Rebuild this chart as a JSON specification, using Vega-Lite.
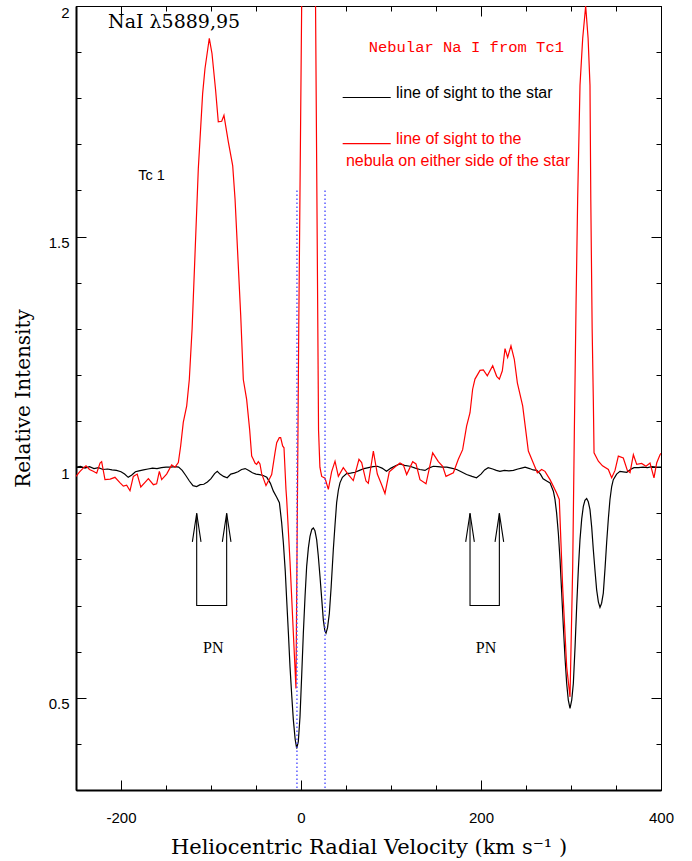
{
  "$schema": "https://vega.github.io/schema/vega-lite/v6.json",
  "width": 585,
  "height": 784,
  "autosize": {"type": "none"},
  "padding": {"left": 76, "top": 6, "right": 31, "bottom": 71},
  "background": "white",
  "config": {
    "view": {"stroke": "black", "strokeWidth": 1},
    "axis": {
      "grid": false,
      "tickColor": "black",
      "tickWidth": 1,
      "domainColor": "black",
      "labelFont": "Liberation Sans",
      "labelFontSize": 15,
      "labelColor": "black",
      "labelFlush": false,
      "labelOverlap": false,
      "titleFont": "DejaVu Serif",
      "titleFontSize": 20,
      "titleFontWeight": "normal",
      "titleColor": "black"
    }
  },
  "datasets": {
    "star": [
      {"v": -250, "i": 1.000}, {"v": -245, "i": 1.002}, {"v": -240, "i": 0.998}, {"v": -235, "i": 1.001},
      {"v": -230, "i": 0.997}, {"v": -225, "i": 0.999}, {"v": -220, "i": 0.995}, {"v": -215, "i": 0.996},
      {"v": -210, "i": 0.994}, {"v": -205, "i": 0.993}, {"v": -200, "i": 0.990}, {"v": -196, "i": 0.985},
      {"v": -192, "i": 0.978}, {"v": -188, "i": 0.983}, {"v": -184, "i": 0.990}, {"v": -180, "i": 0.992},
      {"v": -175, "i": 0.994}, {"v": -170, "i": 0.996}, {"v": -165, "i": 0.998}, {"v": -160, "i": 0.997},
      {"v": -155, "i": 0.999}, {"v": -150, "i": 1.000}, {"v": -145, "i": 1.000}, {"v": -140, "i": 1.001},
      {"v": -136, "i": 1.000}, {"v": -132, "i": 0.993}, {"v": -128, "i": 0.982}, {"v": -124, "i": 0.970},
      {"v": -120, "i": 0.960}, {"v": -116, "i": 0.958}, {"v": -112, "i": 0.962}, {"v": -108, "i": 0.963},
      {"v": -104, "i": 0.968}, {"v": -100, "i": 0.975}, {"v": -96, "i": 0.986}, {"v": -93, "i": 0.991},
      {"v": -90, "i": 0.985}, {"v": -86, "i": 0.980}, {"v": -82, "i": 0.977}, {"v": -78, "i": 0.985},
      {"v": -74, "i": 0.987}, {"v": -70, "i": 0.990}, {"v": -66, "i": 0.995}, {"v": -62, "i": 0.997},
      {"v": -58, "i": 0.993}, {"v": -54, "i": 0.988}, {"v": -50, "i": 0.985}, {"v": -46, "i": 0.984},
      {"v": -42, "i": 0.982}, {"v": -38, "i": 0.978}, {"v": -34, "i": 0.965}, {"v": -30.7, "i": 0.948},
      {"v": -27, "i": 0.935}, {"v": -24, "i": 0.923}, {"v": -21.5, "i": 0.880}, {"v": -19.6, "i": 0.836},
      {"v": -17.5, "i": 0.775}, {"v": -15.9, "i": 0.712}, {"v": -14, "i": 0.640}, {"v": -12.2, "i": 0.567},
      {"v": -10.3, "i": 0.505}, {"v": -8.5, "i": 0.452}, {"v": -6.5, "i": 0.410}, {"v": -4.8, "i": 0.390},
      {"v": -3, "i": 0.405}, {"v": -1.1, "i": 0.459}, {"v": 0.8, "i": 0.550}, {"v": 2.6, "i": 0.640},
      {"v": 4.5, "i": 0.720}, {"v": 6.3, "i": 0.785}, {"v": 8.2, "i": 0.825}, {"v": 10, "i": 0.850},
      {"v": 12, "i": 0.865}, {"v": 13.7, "i": 0.868}, {"v": 15.5, "i": 0.862}, {"v": 17.4, "i": 0.843},
      {"v": 19.2, "i": 0.808}, {"v": 21.1, "i": 0.763}, {"v": 23, "i": 0.715}, {"v": 24.8, "i": 0.669},
      {"v": 26.5, "i": 0.645}, {"v": 27.8, "i": 0.640}, {"v": 29.5, "i": 0.652}, {"v": 31.5, "i": 0.683},
      {"v": 33.5, "i": 0.740}, {"v": 35.9, "i": 0.821}, {"v": 37.8, "i": 0.875}, {"v": 39.6, "i": 0.923},
      {"v": 41.5, "i": 0.950}, {"v": 43.3, "i": 0.966}, {"v": 46, "i": 0.978}, {"v": 50.7, "i": 0.986},
      {"v": 55, "i": 0.987}, {"v": 60, "i": 0.989}, {"v": 65, "i": 0.993}, {"v": 70, "i": 0.997},
      {"v": 75, "i": 0.999}, {"v": 80, "i": 1.001}, {"v": 85, "i": 1.002}, {"v": 90, "i": 0.998},
      {"v": 95, "i": 0.991}, {"v": 100, "i": 0.998}, {"v": 105, "i": 1.003}, {"v": 110, "i": 1.007},
      {"v": 115, "i": 1.004}, {"v": 121, "i": 1.002}, {"v": 127, "i": 0.998}, {"v": 132, "i": 0.995},
      {"v": 137.8, "i": 0.993}, {"v": 142, "i": 0.998}, {"v": 147, "i": 1.002}, {"v": 152, "i": 1.001},
      {"v": 157, "i": 1.000}, {"v": 162, "i": 1.000}, {"v": 167, "i": 0.998}, {"v": 173, "i": 0.995},
      {"v": 178, "i": 0.990}, {"v": 184, "i": 0.984}, {"v": 190, "i": 0.980}, {"v": 195, "i": 0.977},
      {"v": 200, "i": 0.985}, {"v": 204, "i": 0.994}, {"v": 208, "i": 0.999}, {"v": 213, "i": 0.996},
      {"v": 217, "i": 0.993}, {"v": 221, "i": 0.991}, {"v": 226, "i": 0.993}, {"v": 231, "i": 0.992},
      {"v": 236, "i": 0.993}, {"v": 241, "i": 0.996}, {"v": 245, "i": 0.998}, {"v": 249, "i": 1.000},
      {"v": 254, "i": 0.997}, {"v": 258, "i": 0.994}, {"v": 262, "i": 0.993}, {"v": 266, "i": 0.985},
      {"v": 269, "i": 0.975}, {"v": 273, "i": 0.970}, {"v": 276.7, "i": 0.966}, {"v": 280.4, "i": 0.948},
      {"v": 282.2, "i": 0.930}, {"v": 284, "i": 0.901}, {"v": 286, "i": 0.855}, {"v": 287.8, "i": 0.800},
      {"v": 289.6, "i": 0.730}, {"v": 291.5, "i": 0.654}, {"v": 293.4, "i": 0.585}, {"v": 295.2, "i": 0.531},
      {"v": 297, "i": 0.495}, {"v": 298.9, "i": 0.477}, {"v": 300.8, "i": 0.495}, {"v": 302.6, "i": 0.531},
      {"v": 304.5, "i": 0.610}, {"v": 306.3, "i": 0.698}, {"v": 308.2, "i": 0.780}, {"v": 310, "i": 0.843},
      {"v": 311.9, "i": 0.888}, {"v": 313.7, "i": 0.915}, {"v": 315.5, "i": 0.928}, {"v": 317.4, "i": 0.932},
      {"v": 319.2, "i": 0.925}, {"v": 321.1, "i": 0.908}, {"v": 323, "i": 0.870}, {"v": 324.8, "i": 0.821},
      {"v": 326.7, "i": 0.775}, {"v": 328.5, "i": 0.734}, {"v": 330.4, "i": 0.708}, {"v": 332.2, "i": 0.696},
      {"v": 334, "i": 0.705}, {"v": 335.9, "i": 0.727}, {"v": 337.8, "i": 0.780}, {"v": 339.6, "i": 0.836},
      {"v": 341.5, "i": 0.888}, {"v": 343.3, "i": 0.930}, {"v": 345.2, "i": 0.958}, {"v": 347, "i": 0.973},
      {"v": 350.7, "i": 0.985}, {"v": 354.4, "i": 0.991}, {"v": 358, "i": 0.990}, {"v": 362, "i": 0.989},
      {"v": 366, "i": 0.995}, {"v": 370, "i": 0.999}, {"v": 375, "i": 0.999}, {"v": 380, "i": 1.000},
      {"v": 385, "i": 0.999}, {"v": 390, "i": 1.001}, {"v": 395, "i": 1.000}, {"v": 400, "i": 1.000}
    ],
    "nebula": [
      {"v": -250, "i": 0.980}, {"v": -246, "i": 0.990}, {"v": -242, "i": 0.998}, {"v": -238.9, "i": 1.003},
      {"v": -235, "i": 0.995}, {"v": -230.8, "i": 0.991}, {"v": -227, "i": 0.987}, {"v": -223.3, "i": 1.009},
      {"v": -221.5, "i": 1.012}, {"v": -217.8, "i": 0.973}, {"v": -212, "i": 0.974}, {"v": -206.7, "i": 0.978},
      {"v": -201, "i": 0.966}, {"v": -197.4, "i": 0.959}, {"v": -193.7, "i": 0.961}, {"v": -190, "i": 0.949},
      {"v": -186.3, "i": 0.980}, {"v": -182, "i": 0.985}, {"v": -178, "i": 0.957}, {"v": -173.3, "i": 0.967},
      {"v": -169.6, "i": 0.975}, {"v": -164, "i": 0.962}, {"v": -160.4, "i": 0.964}, {"v": -157.4, "i": 0.991},
      {"v": -154.8, "i": 0.973}, {"v": -149.3, "i": 0.985}, {"v": -143.7, "i": 1.005}, {"v": -140, "i": 1.000},
      {"v": -136.3, "i": 1.010}, {"v": -133.7, "i": 1.046}, {"v": -130.8, "i": 1.097}, {"v": -127, "i": 1.133},
      {"v": -124.1, "i": 1.190}, {"v": -121, "i": 1.300}, {"v": -118, "i": 1.450}, {"v": -114.1, "i": 1.647},
      {"v": -109.3, "i": 1.810}, {"v": -106.7, "i": 1.864}, {"v": -101.9, "i": 1.930}, {"v": -98.9, "i": 1.897},
      {"v": -95, "i": 1.820}, {"v": -91.9, "i": 1.749}, {"v": -88.1, "i": 1.750}, {"v": -85.6, "i": 1.763},
      {"v": -80.7, "i": 1.705}, {"v": -75.9, "i": 1.654}, {"v": -73.3, "i": 1.582}, {"v": -70, "i": 1.450},
      {"v": -67, "i": 1.330}, {"v": -64.1, "i": 1.190}, {"v": -60.4, "i": 1.147}, {"v": -57, "i": 1.080},
      {"v": -54.8, "i": 1.024}, {"v": -53, "i": 1.017}, {"v": -51.1, "i": 1.009}, {"v": -49.3, "i": 1.006},
      {"v": -47.4, "i": 1.012}, {"v": -45.6, "i": 1.007}, {"v": -43.7, "i": 0.986}, {"v": -38.9, "i": 0.960},
      {"v": -34.4, "i": 0.977}, {"v": -32.6, "i": 0.984}, {"v": -28.9, "i": 1.031}, {"v": -27, "i": 1.053},
      {"v": -24.1, "i": 1.064}, {"v": -22.6, "i": 1.064}, {"v": -20.4, "i": 1.046}, {"v": -18.9, "i": 1.042},
      {"v": -16.7, "i": 0.952}, {"v": -15.9, "i": 0.930}, {"v": -12.2, "i": 0.795}, {"v": -8.5, "i": 0.640},
      {"v": -5.6, "i": 0.520}, {"v": -2.5, "i": 1.300}, {"v": 3.5, "i": 2.600}, {"v": 9, "i": 2.900},
      {"v": 14, "i": 2.600}, {"v": 19.5, "i": 1.080}, {"v": 21, "i": 1.000}, {"v": 23, "i": 0.980},
      {"v": 26.7, "i": 0.976}, {"v": 30.4, "i": 0.952}, {"v": 34, "i": 0.990}, {"v": 37.8, "i": 1.013},
      {"v": 41.5, "i": 0.980}, {"v": 47, "i": 0.999}, {"v": 52.6, "i": 0.984}, {"v": 58.1, "i": 0.971},
      {"v": 64.4, "i": 1.017}, {"v": 67.4, "i": 1.010}, {"v": 72.2, "i": 0.970}, {"v": 74.8, "i": 0.965},
      {"v": 80.4, "i": 1.035}, {"v": 84.8, "i": 0.985}, {"v": 89.6, "i": 0.962}, {"v": 93.3, "i": 0.943},
      {"v": 98.1, "i": 0.990}, {"v": 104, "i": 1.000}, {"v": 110, "i": 1.009}, {"v": 113.7, "i": 1.005},
      {"v": 117.4, "i": 0.984}, {"v": 124.1, "i": 1.012}, {"v": 127.8, "i": 1.007}, {"v": 132.2, "i": 0.973},
      {"v": 138.9, "i": 0.964}, {"v": 146.3, "i": 1.031}, {"v": 152.6, "i": 1.012}, {"v": 157.4, "i": 1.002},
      {"v": 161.1, "i": 0.980}, {"v": 169.3, "i": 0.988}, {"v": 174.8, "i": 1.017}, {"v": 179.6, "i": 1.038},
      {"v": 184, "i": 1.089}, {"v": 187.8, "i": 1.118}, {"v": 190.7, "i": 1.169}, {"v": 193.3, "i": 1.191},
      {"v": 198.9, "i": 1.210}, {"v": 202.6, "i": 1.211}, {"v": 207, "i": 1.198}, {"v": 213, "i": 1.220},
      {"v": 217.4, "i": 1.197}, {"v": 220.4, "i": 1.191}, {"v": 223.7, "i": 1.209}, {"v": 226.7, "i": 1.257},
      {"v": 229.6, "i": 1.238}, {"v": 233.3, "i": 1.263}, {"v": 237, "i": 1.234}, {"v": 240.4, "i": 1.183},
      {"v": 246.3, "i": 1.133}, {"v": 252.6, "i": 1.035}, {"v": 258.1, "i": 1.009}, {"v": 262.6, "i": 0.988},
      {"v": 267.4, "i": 0.995}, {"v": 271.1, "i": 0.991}, {"v": 276.7, "i": 0.973}, {"v": 280, "i": 0.960},
      {"v": 284, "i": 0.944}, {"v": 287, "i": 0.930}, {"v": 290.7, "i": 0.741}, {"v": 295.2, "i": 0.567},
      {"v": 298.9, "i": 0.502}, {"v": 301.9, "i": 0.785}, {"v": 303.7, "i": 1.075}, {"v": 305.6, "i": 1.350},
      {"v": 307.4, "i": 1.582}, {"v": 310, "i": 1.828}, {"v": 313, "i": 1.930}, {"v": 316.3, "i": 2.000},
      {"v": 319, "i": 1.930}, {"v": 321.1, "i": 1.828}, {"v": 322, "i": 1.580}, {"v": 323.5, "i": 1.300},
      {"v": 324.8, "i": 1.147}, {"v": 325.6, "i": 1.031}, {"v": 330.4, "i": 1.013}, {"v": 335, "i": 1.003},
      {"v": 341.5, "i": 0.995}, {"v": 345.2, "i": 0.977}, {"v": 348.9, "i": 0.993}, {"v": 352.6, "i": 1.024},
      {"v": 358.1, "i": 1.020}, {"v": 362.6, "i": 0.993}, {"v": 365.6, "i": 0.988}, {"v": 369.3, "i": 1.027},
      {"v": 373, "i": 1.006}, {"v": 378.5, "i": 1.008}, {"v": 383.3, "i": 1.002}, {"v": 387.8, "i": 1.009},
      {"v": 392.2, "i": 0.977}, {"v": 395.2, "i": 1.009}, {"v": 398.9, "i": 1.027}, {"v": 400, "i": 1.030}
    ],
    "markers": [
      {"v": -4.5, "top": 1.6, "bottom": 0.3},
      {"v": 26.7, "top": 1.6, "bottom": 0.3}
    ],
    "brackets": [
      {"g": "L", "k": 1, "v": -115.9, "i": 0.9}, {"g": "L", "k": 2, "v": -115.9, "i": 0.7},
      {"g": "L", "k": 3, "v": -82.6, "i": 0.7}, {"g": "L", "k": 4, "v": -82.6, "i": 0.9},
      {"g": "R", "k": 1, "v": 187.8, "i": 0.9}, {"g": "R", "k": 2, "v": 187.8, "i": 0.7},
      {"g": "R", "k": 3, "v": 220.4, "i": 0.7}, {"g": "R", "k": 4, "v": 220.4, "i": 0.9}
    ],
    "heads": [
      {"g": "a", "k": 1, "v": -120.7, "i": 0.838}, {"g": "a", "k": 2, "v": -115.9, "i": 0.9}, {"g": "a", "k": 3, "v": -111.1, "i": 0.838},
      {"g": "b", "k": 1, "v": -87.4, "i": 0.838}, {"g": "b", "k": 2, "v": -82.6, "i": 0.9}, {"g": "b", "k": 3, "v": -77.8, "i": 0.838},
      {"g": "c", "k": 1, "v": 183.0, "i": 0.838}, {"g": "c", "k": 2, "v": 187.8, "i": 0.9}, {"g": "c", "k": 3, "v": 192.6, "i": 0.838},
      {"g": "d", "k": 1, "v": 215.6, "i": 0.838}, {"g": "d", "k": 2, "v": 220.4, "i": 0.9}, {"g": "d", "k": 3, "v": 225.2, "i": 0.838}
    ],
    "legendlines": [
      {"s": "star", "v": 46.3, "i": 1.8015}, {"s": "star", "v": 99.7, "i": 1.8015},
      {"s": "neb", "v": 46.3, "i": 1.7015}, {"s": "neb", "v": 99.7, "i": 1.7015}
    ]
  },
  "resolve": {"axis": {"x": "independent", "y": "independent"}},
  "layer": [
    {
      "data": {"name": "star"},
      "mark": {"type": "line", "color": "black", "strokeWidth": 1.2, "clip": true},
      "encoding": {
        "x": {"field": "v", "type": "quantitative",
              "scale": {"domain": [-250, 400], "nice": false, "zero": false},
              "axis": {"orient": "bottom", "values": [-200, 0, 200, 400], "tickSize": -10, "labelPadding": 30,
                       "labelExpr": "'' + datum.value", "domainWidth": 2,
                       "title": "Heliocentric Radial Velocity (km s⁻¹ )", "titleFontSize": 21, "titleY": 63, "titleBaseline": "alphabetic"}},
        "y": {"field": "i", "type": "quantitative",
              "scale": {"domain": [0.3, 2.0], "nice": false, "zero": false},
              "axis": {"orient": "left", "values": [0.5, 1, 1.5, 2], "tickSize": -10, "labelPadding": 17, "labelOffset": 6,
                       "labelExpr": "'' + datum.value", "domainWidth": 2,
                       "title": "Relative Intensity", "titleX": -47, "titleBaseline": "alphabetic"}}
      }
    },
    {
      "data": {"name": "nebula"},
      "mark": {"type": "line", "color": "#ff0000", "strokeWidth": 1.2, "clip": true},
      "encoding": {
        "x": {"field": "v", "type": "quantitative",
              "scale": {"domain": [-250, 400], "nice": false, "zero": false},
              "axis": {"orient": "bottom", "values": [-250, -200, -150, -100, -50, 0, 50, 100, 150, 200, 250, 300, 350, 400],
                       "tickSize": -5, "labels": false, "domain": false, "title": null}},
        "y": {"field": "i", "type": "quantitative",
              "scale": {"domain": [0.3, 2.0], "nice": false, "zero": false},
              "axis": {"orient": "left", "values": [0.3, 0.4, 0.5, 0.6, 0.7, 0.8, 0.9, 1.0, 1.1, 1.2, 1.3, 1.4, 1.5, 1.6, 1.7, 1.8, 1.9, 2.0],
                       "tickSize": -5, "labels": false, "domain": false, "title": null}}
      }
    },
    {
      "data": {"name": "markers"},
      "mark": {"type": "rule", "color": "#4f4fff", "strokeWidth": 1.4, "strokeDash": [1.5, 2.5]},
      "encoding": {
        "x": {"field": "v", "type": "quantitative",
              "scale": {"domain": [-250, 400], "nice": false, "zero": false},
              "axis": {"orient": "top", "values": [-200, 0, 200, 400], "tickSize": -10, "labels": false, "domain": false, "title": null}},
        "y": {"field": "top", "type": "quantitative",
              "scale": {"domain": [0.3, 2.0], "nice": false, "zero": false},
              "axis": {"orient": "right", "values": [0.5, 1, 1.5, 2], "tickSize": -10, "labels": false, "domain": false, "title": null}},
        "y2": {"field": "bottom"}
      }
    },
    {
      "data": {"name": "brackets"},
      "mark": {"type": "line", "color": "black", "strokeWidth": 1.1},
      "encoding": {
        "x": {"field": "v", "type": "quantitative",
              "scale": {"domain": [-250, 400], "nice": false, "zero": false},
              "axis": {"orient": "top", "values": [-250, -200, -150, -100, -50, 0, 50, 100, 150, 200, 250, 300, 350, 400],
                       "tickSize": -5, "labels": false, "domain": false, "title": null}},
        "y": {"field": "i", "type": "quantitative",
              "scale": {"domain": [0.3, 2.0], "nice": false, "zero": false},
              "axis": {"orient": "right", "values": [0.3, 0.4, 0.5, 0.6, 0.7, 0.8, 0.9, 1.0, 1.1, 1.2, 1.3, 1.4, 1.5, 1.6, 1.7, 1.8, 1.9, 2.0],
                       "tickSize": -5, "labels": false, "domain": false, "title": null}},
        "detail": {"field": "g"},
        "order": {"field": "k"}
      }
    },
    {
      "data": {"name": "heads"},
      "mark": {"type": "line", "color": "black", "strokeWidth": 1.1},
      "encoding": {
        "x": {"field": "v", "type": "quantitative", "axis": null},
        "y": {"field": "i", "type": "quantitative", "axis": null},
        "detail": {"field": "g"},
        "order": {"field": "k"}
      }
    },
    {
      "data": {"name": "legendlines"},
      "transform": [{"filter": "datum.s === 'star'"}],
      "mark": {"type": "line", "color": "black", "strokeWidth": 1.1},
      "encoding": {
        "x": {"field": "v", "type": "quantitative", "axis": null},
        "y": {"field": "i", "type": "quantitative", "axis": null}
      }
    },
    {
      "data": {"name": "legendlines"},
      "transform": [{"filter": "datum.s === 'neb'"}],
      "mark": {"type": "line", "color": "#ff0000", "strokeWidth": 1.1},
      "encoding": {
        "x": {"field": "v", "type": "quantitative", "axis": null},
        "y": {"field": "i", "type": "quantitative", "axis": null}
      }
    },
    {
      "data": {"values": [{"t": "NaI  λ5889,95", "v": -214.4, "i": 1.953}]},
      "mark": {"type": "text", "font": "DejaVu Serif", "fontSize": 19, "color": "black", "align": "left", "baseline": "alphabetic"},
      "encoding": {
        "x": {"field": "v", "type": "quantitative", "axis": null},
        "y": {"field": "i", "type": "quantitative", "axis": null},
        "text": {"field": "t"}
      }
    },
    {
      "data": {"values": [{"t": "Tc 1", "v": -180.8, "i": 1.622}]},
      "mark": {"type": "text", "font": "Liberation Sans", "fontSize": 14.5, "color": "black", "align": "left", "baseline": "alphabetic"},
      "encoding": {
        "x": {"field": "v", "type": "quantitative", "axis": null},
        "y": {"field": "i", "type": "quantitative", "axis": null},
        "text": {"field": "t"}
      }
    },
    {
      "data": {"values": [{"t": "Nebular Na I from Tc1", "v": 183.7, "i": 1.901}]},
      "mark": {"type": "text", "font": "Liberation Mono", "fontSize": 15.5, "color": "#ff0000", "align": "center", "baseline": "alphabetic"},
      "encoding": {
        "x": {"field": "v", "type": "quantitative", "axis": null},
        "y": {"field": "i", "type": "quantitative", "axis": null},
        "text": {"field": "t"}
      }
    },
    {
      "data": {"values": [{"t": "line of sight to the star", "v": 105.6, "i": 1.8015}]},
      "mark": {"type": "text", "font": "Liberation Sans", "fontSize": 16, "color": "black", "align": "left", "baseline": "alphabetic"},
      "encoding": {
        "x": {"field": "v", "type": "quantitative", "axis": null},
        "y": {"field": "i", "type": "quantitative", "axis": null},
        "text": {"field": "t"}
      }
    },
    {
      "data": {"values": [{"t": "line of sight to the", "v": 105.6, "i": 1.7015}]},
      "mark": {"type": "text", "font": "Liberation Sans", "fontSize": 16, "color": "#ff0000", "align": "left", "baseline": "alphabetic"},
      "encoding": {
        "x": {"field": "v", "type": "quantitative", "axis": null},
        "y": {"field": "i", "type": "quantitative", "axis": null},
        "text": {"field": "t"}
      }
    },
    {
      "data": {"values": [{"t": "nebula on either side of the star", "v": 174.4, "i": 1.654}]},
      "mark": {"type": "text", "font": "Liberation Sans", "fontSize": 16, "color": "#ff0000", "align": "center", "baseline": "alphabetic"},
      "encoding": {
        "x": {"field": "v", "type": "quantitative", "axis": null},
        "y": {"field": "i", "type": "quantitative", "axis": null},
        "text": {"field": "t"}
      }
    },
    {
      "data": {"values": [{"t": "PN", "v": -97.4, "i": 0.598}, {"t": "PN", "v": 205.6, "i": 0.598}]},
      "mark": {"type": "text", "font": "Liberation Serif", "fontSize": 16, "color": "black", "align": "center", "baseline": "alphabetic"},
      "encoding": {
        "x": {"field": "v", "type": "quantitative", "axis": null},
        "y": {"field": "i", "type": "quantitative", "axis": null},
        "text": {"field": "t"}
      }
    }
  ]
}
